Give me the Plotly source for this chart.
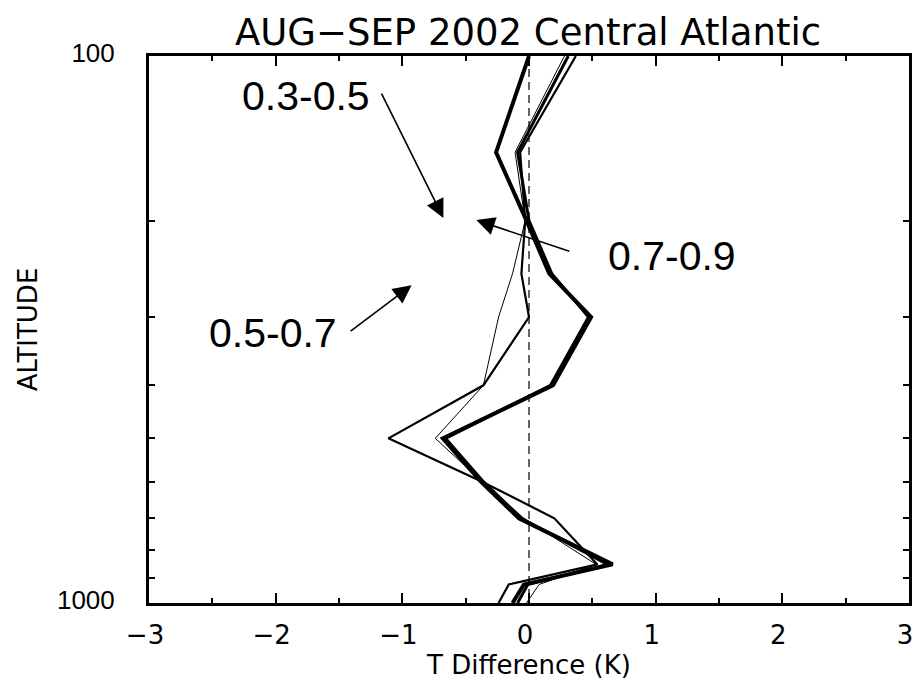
import numpy as np
import plotly.graph_objects as go

# ---- data ----
pressure = [100, 150, 200, 250, 300, 400, 500, 600, 700, 850, 925, 1000]

# four profiles of temperature difference (K)
t_diff_thin = [0.28, -0.11, -0.03, -0.13, -0.24, -0.36, -0.74, -0.37, -0.04, 0.53, 0.08, -0.02]
t_diff_medium = [0.37, -0.07, -0.03, -0.06, 0.00, -0.36, -1.11, -0.37, 0.20, 0.54, -0.16, -0.24]
t_diff_thick = [0.31, -0.09, 0.00, 0.18, 0.47, 0.17, -0.66, -0.36, -0.06, 0.62, -0.01, -0.09]
t_diff_thickest = [0.00, -0.26, -0.02, 0.16, 0.49, 0.19, -0.68, -0.38, -0.08, 0.66, -0.04, -0.13]

x_ticks = [-3, -2, -1, 0, 1, 2, 3]
x_minor_ticks = [-2.5, -1.5, -0.5, 0.5, 1.5, 2.5]
y_ticks = [100, 1000]
y_tick_text = ["100", "1000"]
y_minor_ticks = [200, 300, 400, 500, 600, 700, 800, 900]

range_labels = ["0.3-0.5", "0.7-0.9", "0.5-0.7"]

# ---- figure ----
fig = go.Figure()

fig.add_trace(go.Scatter(x=[0, 0], y=[100, 1000], mode="lines",
                         line=dict(color="black", width=1.2, dash="8px,5px"),
                         hoverinfo="skip", showlegend=False))

for vals, w in [(t_diff_thin, 1), (t_diff_medium, 2.2), (t_diff_thick, 3), (t_diff_thickest, 4)]:
    fig.add_trace(go.Scatter(x=vals, y=pressure, mode="lines",
                             line=dict(color="black", width=w),
                             showlegend=False))

label_font = dict(family="Liberation Sans, Arial, sans-serif", size=41, color="black")

# text labels
fig.add_annotation(x=-1.76, y=2.073, xref="x", yref="y", text=range_labels[0],
                   showarrow=False, font=label_font)
fig.add_annotation(x=1.13, y=2.366, xref="x", yref="y", text=range_labels[1],
                   showarrow=False, font=label_font)
fig.add_annotation(x=-2.02, y=2.506, xref="x", yref="y", text=range_labels[2],
                   showarrow=False, font=label_font)

# arrows (tail -> head)
arrows = [
    ((-1.17, 2.066), (-0.676, 2.296)),
    ((0.33, 2.358), (-0.416, 2.300)),
    ((-1.42, 2.505), (-0.927, 2.419)),
]
for (tx, ty), (hx, hy) in arrows:
    fig.add_annotation(x=hx, y=hy, ax=tx, ay=ty, xref="x", yref="y",
                       axref="x", ayref="y", text="", showarrow=True,
                       arrowhead=2, arrowsize=2.3, arrowwidth=1.6, arrowcolor="black")

hershey = "DejaVu Sans, Liberation Sans, sans-serif"

fig.update_layout(
    width=921, height=691,
    margin=dict(l=149, r=8, t=56, b=88),
    paper_bgcolor="white", plot_bgcolor="white",
    showlegend=False,
    title=dict(text="AUG\u2212SEP 2002 Central Atlantic", x=528 / 921, xanchor="center",
               y=1 - 32 / 691, yref="container", yanchor="middle",
               font=dict(family=hershey, size=37, color="black")),
)

fig.update_xaxes(
    range=[-3, 3], tickvals=x_ticks, ticks="inside", ticklen=10, tickwidth=2,
    tickcolor="black", showline=True, linewidth=3, linecolor="black", mirror="ticks",
    showgrid=False, zeroline=False, ticklabelstandoff=7, ticklabelshift=-4,
    minor=dict(tickvals=x_minor_ticks, ticks="inside", ticklen=5, tickwidth=2, tickcolor="black"),
    tickfont=dict(family=hershey, size=26, color="black"),
    title=dict(text="T Difference (K)", font=dict(family=hershey, size=26, color="black"), standoff=6),
)

fig.update_yaxes(
    type="log", range=[3, 2], tickvals=y_ticks, ticktext=y_tick_text,
    ticks="inside", ticklen=6, tickwidth=2, tickcolor="black",
    showline=True, linewidth=3, linecolor="black", mirror="ticks",
    showgrid=False, zeroline=False, ticklabelshift=3, ticklabelstandoff=26,
    minor=dict(tickvals=y_minor_ticks, ticks="inside", ticklen=6, tickwidth=2, tickcolor="black"),
    tickfont=dict(family="Liberation Sans, Arial, sans-serif", size=26, color="black"),
    title=dict(text="ALTITUDE", font=dict(family=hershey, size=26, color="black"), standoff=12),
)

fig.write_html("out.html")
